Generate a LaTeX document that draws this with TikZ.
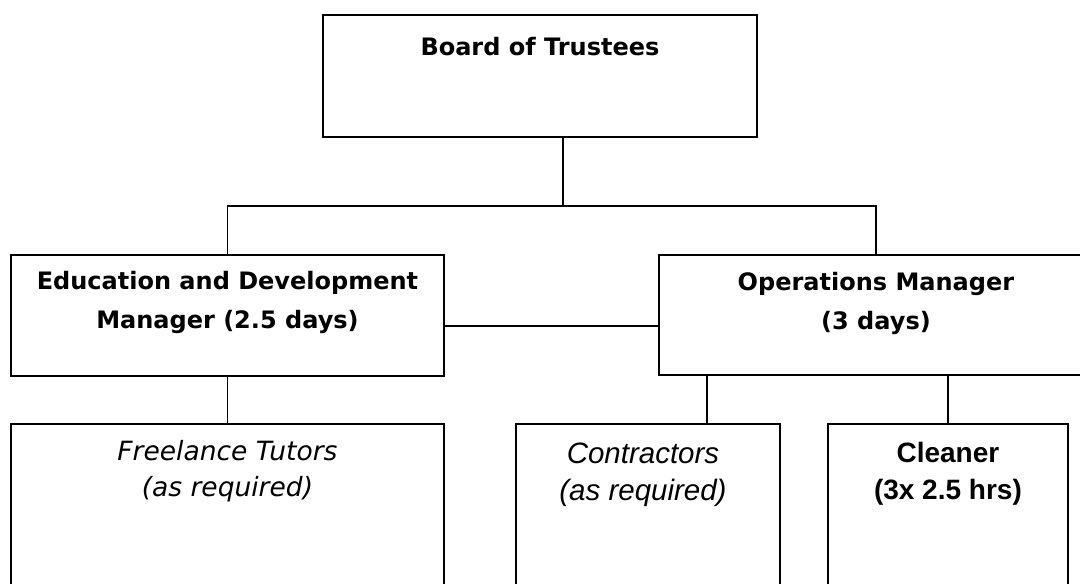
\documentclass[tikz,border=0pt]{standalone}
\usepackage{fontspec}
\newfontfamily\tahomafont{DejaVu Sans}
\newfontfamily\arialfont{Liberation Sans}
\begin{document}
\begin{tikzpicture}[x=1pt,y=-1pt,
    post/.style={draw, line width=1.9pt, inner sep=0pt, anchor=north west},
    title/.style={anchor=north, align=center, inner sep=0pt},
    link/.style={line width=1.9pt}]
    \useasboundingbox (0,0) rectangle (1080,584);
    \clip (0,0) rectangle (1080,584);
    % boxes
    \node[post, minimum width=434, minimum height=122] (board) at (322,14) {};
    \node[post, minimum width=433, minimum height=121] (edu) at (10,254) {};
    \node[post, minimum width=434, minimum height=120] (ops) at (658,254) {};
    \node[post, minimum width=433, minimum height=200] (tutors) at (10,423) {};
    \node[post, minimum width=264, minimum height=200] (contr) at (515,423) {};
    \node[post, minimum width=240, minimum height=200] (clean) at (827,423) {};
    % texts
    \node[title, font={\tahomafont\bfseries\fontsize{24}{39}\selectfont}, yshift=-23pt] (boardtxt) at (board.north) {Board of Trustees};
    \node[title, font={\tahomafont\bfseries\fontsize{24}{39}\selectfont}, yshift=-17pt] (edutxt) at (edu.north) {Education and Development\\Manager (2.5 days)};
    \node[title, font={\tahomafont\bfseries\fontsize{24}{39}\selectfont}, yshift=-18pt] (opstxt) at (ops.north) {Operations Manager\\(3 days)};
    \node[title, font={\tahomafont\itshape\fontsize{26.5}{36}\selectfont}, yshift=-17pt] (tutorstxt) at (tutors.north) {Freelance Tutors\\(as required)};
    \node[title, font={\arialfont\itshape\fontsize{29.5}{37}\selectfont}, yshift=-20pt] (contrtxt) at (contr.north -| 643,0) {Contractors\\(as required)};
    \node[title, font={\arialfont\bfseries\fontsize{28}{37}\selectfont}, yshift=-19pt] (cleantxt) at (clean.north) {Cleaner\\(3x 2.5 hrs)};
    % connectors
    \coordinate (fork) at (563,206);
    \coordinate (mid) at (550,326);
    \coordinate (contrtop) at (707,423);
    \draw[link] (board.south -| fork) -- (fork);
    \draw[link] (edu.north) |- (fork) -| (ops.north);
    \draw[link] (edu.east |- mid) -- (ops.west |- mid);
    \draw[link] (edu.south) -- (tutors.north);
    \draw[link] (ops.south -| contrtop) -- (contrtop);
    \draw[link] (ops.south -| clean.north) -- (clean.north);
\end{tikzpicture}
\end{document}
